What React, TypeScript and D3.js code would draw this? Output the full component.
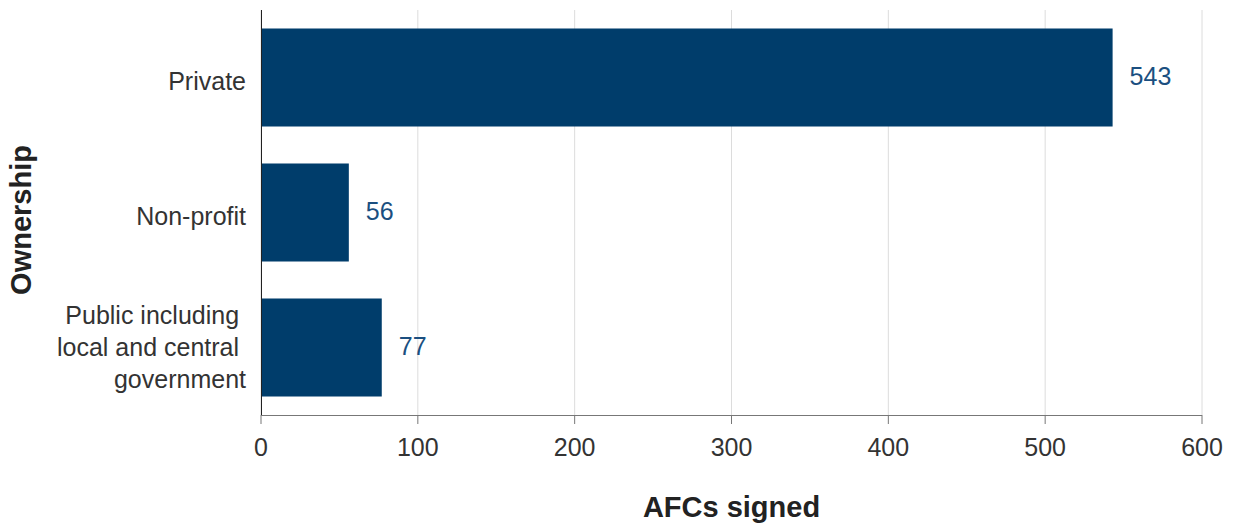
import React from "react";
import * as d3 from "d3";

const categories = ["Private", "Non-profit", "Public including local and central government"];
const categoryLines = [["Private"], ["Non-profit"], ["Public including\u00a0", "local and central\u00a0", "government"]];
const values = [543, 56, 77];
const xTicks = [0, 100, 200, 300, 400, 500, 600];

const W = 1233;
const H = 528;
const M = { left: 261, right: 31, top: 10, bottom: 113 };
const FONT = "'Liberation Sans', Arial, Helvetica, sans-serif";

export default function App() {
  const x = d3.scaleLinear().domain([0, 600]).range([M.left, W - M.right]);
  const y = d3
    .scaleBand<string>()
    .domain(categories)
    .range([M.top, H - M.bottom])
    .paddingInner(0.274)
    .paddingOuter(0.137);
  const bottom = H - M.bottom;

  return (
    <svg width={W} height={H} style={{ position: "absolute", left: 0, top: 0, background: "#fff" }}>
      {xTicks.map((t) => (
        <line key={"g" + t} x1={x(t)} x2={x(t)} y1={M.top} y2={bottom} stroke="#dcdcdc" strokeWidth={1} />
      ))}
      {categories.map((c, i) => (
        <rect key={c} x={x(0)} y={y(c)} width={x(values[i]) - x(0)} height={y.bandwidth()} fill="#003d6b" />
      ))}
      {categories.map((c, i) => (
        <text
          key={"v" + c}
          x={x(values[i]) + 17}
          y={(y(c) as number) + y.bandwidth() / 2 - 1}
          dy="0.35em"
          fontFamily={FONT}
          fontSize={25}
          fill="#1b4f80"
        >
          {values[i]}
        </text>
      ))}
      <line x1={x(0)} x2={x(600)} y1={bottom + 0.5} y2={bottom + 0.5} stroke="#777" strokeWidth={1} />
      {xTicks.map((t) => (
        <g key={"t" + t}>
          <line x1={x(t)} x2={x(t)} y1={bottom} y2={bottom + 9} stroke="#777" strokeWidth={1} />
          <text x={x(t)} y={bottom + 41} textAnchor="middle" fontFamily={FONT} fontSize={25} fill="#333">
            {t}
          </text>
        </g>
      ))}
      <line x1={x(0) + 0.5} x2={x(0) + 0.5} y1={M.top} y2={bottom} stroke="#222" strokeWidth={1} />
      {categories.map((c, i) => {
        const lines = categoryLines[i];
        const cy = (y(c) as number) + y.bandwidth() / 2;
        const lh = 32;
        const start = lines.length === 1 ? cy + 4 : cy - ((lines.length - 1) * lh) / 2;
        return (
          <text key={"c" + c} textAnchor="end" fontFamily={FONT} fontSize={25} fill="#333">
            {lines.map((l, j) => (
              <tspan key={j} x={M.left - 15} y={start + j * lh} dy="0.35em">
                {l}
              </tspan>
            ))}
          </text>
        );
      })}
      <text
        x={(x(0) + x(600)) / 2}
        y={517}
        textAnchor="middle"
        fontFamily={FONT}
        fontSize={29}
        fontWeight="bold"
        fill="#222"
      >
        AFCs signed
      </text>
      <text
        transform={`translate(31, 220) rotate(-90)`}
        textAnchor="middle"
        fontFamily={FONT}
        fontSize={29}
        fontWeight="bold"
        fill="#222"
      >
        Ownership
      </text>
    </svg>
  );
}
